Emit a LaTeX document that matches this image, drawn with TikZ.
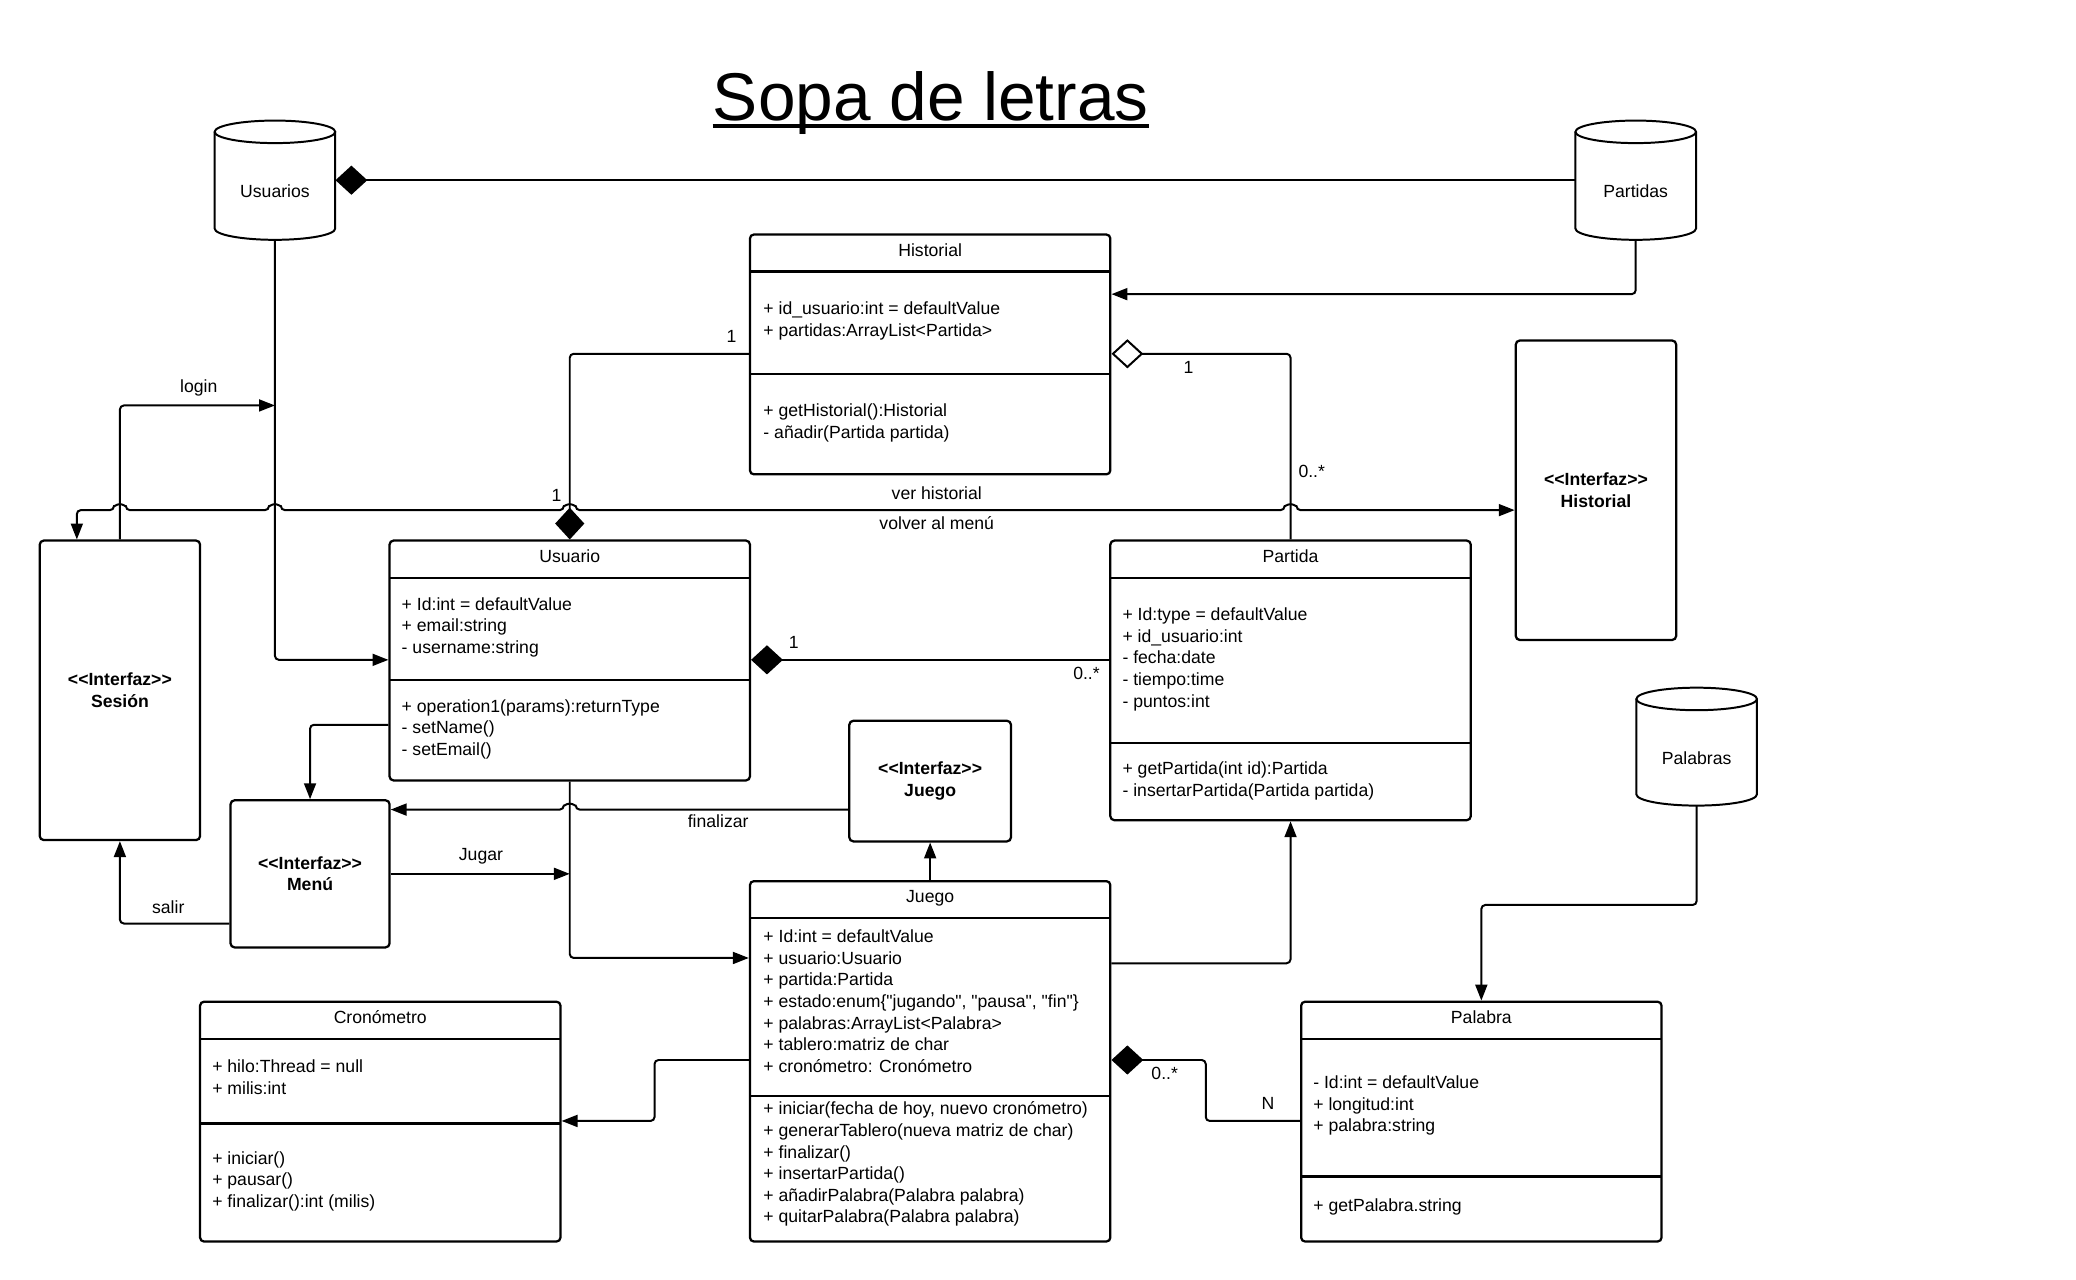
\documentclass[tikz,border=0pt]{standalone}
\usepackage{fontspec}
\setmainfont{Liberation Sans}[Ligatures=TeXOff]
\usetikzlibrary{fit,arrows.meta}
\newcommand\fs{\fontsize{13.3}{16.3}\selectfont}
\tikzset{
  box/.style={draw, line width=1.7pt, rounded corners=3pt, inner sep=0pt, fill=white},
  conn/.style={line width=1.5pt, rounded corners=3pt},
  arr/.style={conn, -{Triangle[length=12pt,width=9pt]}},
  biarr/.style={conn, {Triangle[length=12pt,width=9pt]}-{Triangle[length=12pt,width=9pt]}},
  comp/.style={conn, -{Diamond[length=24pt,width=22pt]}},
  agg/.style={conn, -{Diamond[open,length=24pt,width=22pt,fill=white]}},
  txt/.style={anchor=base west, inner sep=0pt, font=\fs},
  ttl/.style={anchor=base, inner sep=0pt, font=\fs},
  lbl/.style={inner sep=0pt, font=\fs},
  itxt/.style={inner sep=0pt, align=center, font=\fs\bfseries},
}
\newcommand\umlbox[7]{%
  \node[box, fit={(#2,#3)(#4,#5)}] (#1) {};
  \draw[line width=1.7pt] (#2,#6) -- (#4,#6);
  \draw[line width=1.7pt] (#2,#7) -- (#4,#7);
}
\newcommand\ulines[3]{%
  \foreach [count=\i from 0] \t in {#3} {\node[txt] at (#1, #2+4.5+16.3*\i) {\t};}%
}
\newcommand\dbcyl[7]{% name, cx, ytop, ybot, rx, label y, label
  \fill[white] (#2-#5,#3+8.5) rectangle (#2+#5,#4-8.5);
  \draw[line width=1.5pt, fill=white] (#2-#5,#3+8.5) -- (#2-#5,#4-8.5)
    arc[start angle=180, end angle=0, x radius=#5, y radius=8.5] -- (#2+#5,#3+8.5);
  \draw[line width=1.5pt, fill=white] (#2,#3+8.5) ellipse[x radius=#5, y radius=8.5];
  \node[fit={(#2-#5,#3)(#2+#5,#4)}, inner sep=0pt] (#1) {};
  \node[lbl] at (#2,#6) {#7};
}
\begin{document}
\begin{tikzpicture}[x=1pt,y=-1pt]
\path[use as bounding box, fill=white] (0,0) rectangle (1566.8,966);

% title
\node[anchor=base, inner sep=0pt, font=\fontsize{51}{60}\selectfont] (title) at (702.5,91) {Sopa de letras};
\draw[line width=2.8pt] ([yshift=-4pt]title.base west) -- ([yshift=-4pt]title.base east);

% databases
\dbcyl{usuarios}{207.5}{91}{181}{45.5}{144}{Usuarios}
\dbcyl{partidas}{1234.5}{91}{181}{45.5}{144}{Partidas}
\dbcyl{palabras}{1280.5}{519}{608}{45.5}{572}{Palabras}

% classes
\umlbox{hist}{566}{177}{838}{358}{205}{282}
\node[ttl] at (702,193.5) {Historial};
\ulines{576}{233}{{+ id\_usuario:int = defaultValue},{+ partidas:ArrayList<Partida>}}
\ulines{576}{310}{{+ getHistorial():Historial},{- añadir(Partida partida)}}

\umlbox{usuario}{294}{408}{566}{589}{436}{513}
\node[ttl] at (430,424.5) {Usuario};
\ulines{303}{456}{{+ Id:int = defaultValue},{+ email:string},{- username:string}}
\ulines{303}{533}{{+ operation1(params):returnType},{- setName()},{- setEmail()}}

\umlbox{partida}{838}{408}{1110}{619}{436}{561}
\node[ttl] at (974,424.5) {Partida};
\ulines{847}{464}{{+ Id:type = defaultValue},{+ id\_usuario:int},{- fecha:date},{- tiempo:time},{- puntos:int}}
\ulines{847}{580}{{+ getPartida(int id):Partida},{- insertarPartida(Partida partida)}}

\umlbox{juego}{566}{665}{838}{937}{693}{827}
\node[ttl] at (702,681.5) {Juego};
\ulines{576}{707}{{+ Id:int = defaultValue},{+ usuario:Usuario},{+ partida:Partida},{+ estado:enum\{"jugando", "pausa", "fin"\}},{+ palabras:ArrayList<Palabra>},{+ tablero:matriz de char},{+ cronómetro: Cronómetro}}
\ulines{576}{837}{{+ iniciar(fecha de hoy, nuevo cronómetro)},{+ generarTablero(nueva matriz de char)},{+ finalizar()},{+ insertarPartida()},{+ añadirPalabra(Palabra palabra)},{+ quitarPalabra(Palabra palabra)}}

\umlbox{crono}{151}{756}{423}{937}{784}{848}
\node[ttl] at (287,772.5) {Cronómetro};
\ulines{160}{805}{{+ hilo:Thread = null},{+ milis:int}}
\ulines{160}{874}{{+ iniciar()},{+ pausar()},{+ finalizar():int (milis)}}

\umlbox{palabra}{982}{756}{1254}{937}{784}{888}
\node[ttl] at (1118,772.5) {Palabra};
\ulines{991}{817}{{- Id:int = defaultValue},{+ longitud:int},{+ palabra:string}}
\ulines{991}{910}{{+ getPalabra.string}}

% interfaces
\node[box, fit={(30,408)(151,634)}] (sesion) {};
\node[itxt] at (sesion.center) {<<Interfaz>>\\Sesión};
\node[box, fit={(1144,257)(1265,483)}] (ihist) {};
\node[itxt] at (ihist.center) {<<Interfaz>>\\Historial};
\node[box, fit={(174,604)(294,715)}] (menu) {};
\node[itxt] at (menu.center) {<<Interfaz>>\\Menú};
\node[box, fit={(641,544)(763,635)}] (ijuego) {};
\node[itxt] at (ijuego.center) {<<Interfaz>>\\Juego};

% connectors
\draw[comp] (partidas.west) -- (usuarios.east);
\draw[arr] (partidas.south) |- (hist.east |- 0,222);
\draw[agg] (partida.north) |- (hist.east |- 0,267);
\draw[comp] (hist.west |- 0,267) -| (usuario.north);
\draw[biarr] (58,0 |- sesion.north) -- (58,385) -- (86,385)
   arc[start angle=180,end angle=360,radius=4.5] -- (203,385)
   arc[start angle=180,end angle=360,radius=4.5] -- (425.5,385)
   arc[start angle=180,end angle=360,radius=4.5] -- (969.5,385)
   arc[start angle=180,end angle=360,radius=4.5] -- (ihist.west |- 0,385);
\draw[arr] (sesion.north) |- (usuarios.south |- 0,306);
\draw[arr] (usuarios.south) |- (usuario.west |- 0,498);
\draw[comp] (partida.west |- 0,498) -- (usuario.east |- 0,498);
\draw[arr] (usuario.west |- 0,547) -| (menu.north);
\draw[arr] (menu.west |- 0,697) -| (sesion.south);
\draw[arr] (menu.east) -- (menu.east -| usuario.south);
\draw[arr] (usuario.south) |- (juego.west |- 0,723);
\draw[arr] (ijuego.west |- 0,611) -- (434.5,611)
   arc[start angle=0,end angle=-180,radius=4.5] -- (menu.east |- 0,611);
\draw[arr] (juego.north) -- (ijuego.south);
\draw[arr] (juego.east |- 0,727) -| (partida.south);
\draw[arr] (juego.west |- 0,800) -- (494,800) |- (crono.east |- 0,846);
\draw[comp] (palabra.west |- 0,846) -- (910,846) |- (juego.east |- 0,800);
\draw[arr] (palabras.south) -- (palabras.south |- 0,683) -| (palabra.north);

% labels
\node[lbl] at (150,293) {login};
\node[lbl] at (552,254) {1};
\node[lbl] at (897,277) {1};
\node[lbl] at (990,356) {0..*};
\node[lbl] at (420,374) {1};
\node[lbl] at (707,372) {ver historial};
\node[lbl] at (707,395) {volver al menú};
\node[lbl] at (599,485) {1};
\node[lbl] at (820,508) {0..*};
\node[lbl] at (542,620) {finalizar};
\node[lbl] at (363,646) {Jugar};
\node[lbl] at (127,685) {salir};
\node[lbl] at (879,810) {0..*};
\node[lbl] at (957,833) {N};
\end{tikzpicture}
\end{document}
